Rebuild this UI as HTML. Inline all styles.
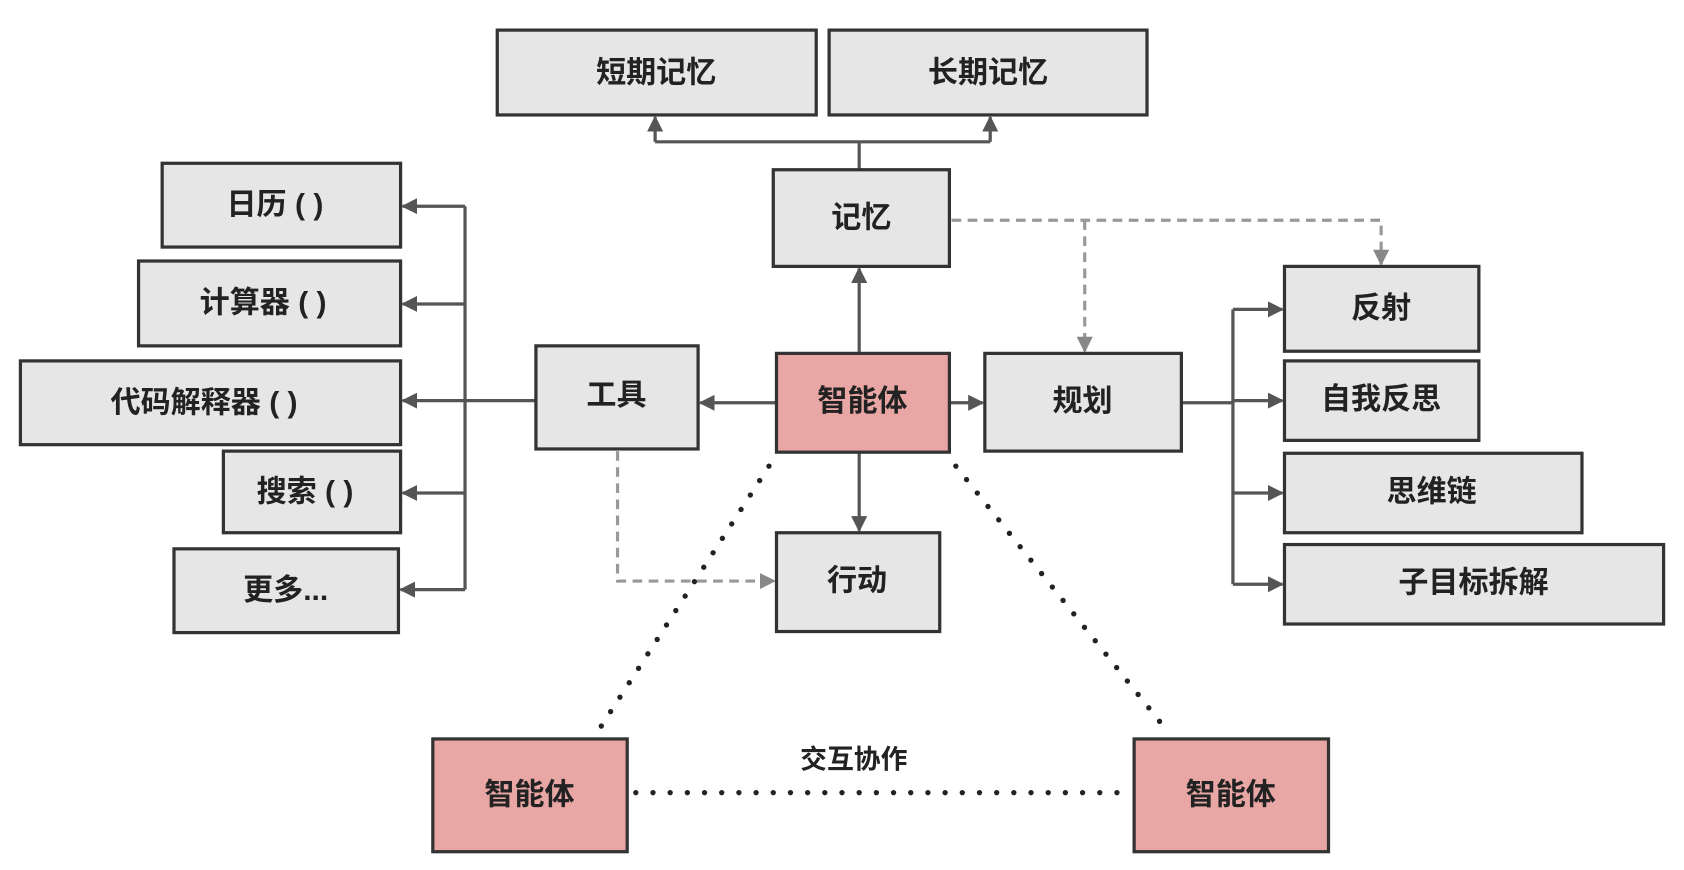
<!DOCTYPE html>
<html><head><meta charset="utf-8"><style>
html,body{margin:0;padding:0;background:#fff;}
svg{display:block}
text{font-family:"Liberation Sans","Noto Sans CJK SC",sans-serif;font-weight:bold;fill:#222;text-anchor:middle;dominant-baseline:central;font-size:28px}
</style></head><body>
<svg width="1684" height="870" viewBox="0 0 1568 810" xmlns="http://www.w3.org/2000/svg">
<defs>
<marker id="a" viewBox="0 0 10 10" refX="9" refY="5" markerWidth="5" markerHeight="5" orient="auto"><path d="M0,0L10,5L0,10z" fill="#555"/></marker>
<marker id="b" viewBox="0 0 10 10" refX="9" refY="5" markerWidth="5" markerHeight="5" orient="auto"><path d="M0,0L10,5L0,10z" fill="#888"/></marker>
</defs>
<g stroke="#555" stroke-width="3" fill="none">
<path d="M800,158V132M610,132H922" />
<path d="M610,132V109" marker-end="url(#a)"/><path d="M922,132V109" marker-end="url(#a)"/>
<path d="M433,192V549M499,373H433"/>
<path d="M433,192H375" marker-end="url(#a)"/><path d="M433,283H375" marker-end="url(#a)"/><path d="M433,373H375" marker-end="url(#a)"/><path d="M433,459H375" marker-end="url(#a)"/><path d="M433,549H373" marker-end="url(#a)"/>
<path d="M800,329V250" marker-end="url(#a)"/>
<path d="M723,375H652" marker-end="url(#a)"/>
<path d="M884,375H915" marker-end="url(#a)"/>
<path d="M800,421V494" marker-end="url(#a)"/>
<path d="M1100,375H1148M1148,288V544"/>
<path d="M1148,288H1194" marker-end="url(#a)"/><path d="M1148,373H1194" marker-end="url(#a)"/><path d="M1148,459H1194" marker-end="url(#a)"/><path d="M1148,544H1194" marker-end="url(#a)"/>
</g>
<g stroke="#999" stroke-width="3" fill="none" stroke-dasharray="9,6">
<path d="M886,205H1286V246" marker-end="url(#b)"/>
<path d="M1010,205V327" marker-end="url(#b)"/>
<path d="M575,420V541H721" marker-end="url(#b)"/>
</g>
<g stroke="#222" stroke-width="5" fill="none" stroke-dasharray="0,16" stroke-linecap="round">
<path d="M716,434L556,682"/><path d="M890,434L1088,682"/><path d="M592,738H1048"/>
</g>
<g stroke="#333" stroke-width="3">
<g fill="#e6e6e6">
<rect x="463" y="28" width="297" height="79"/><rect x="772" y="28" width="296" height="79"/>
<rect x="720" y="158" width="164" height="90"/>
<rect x="151" y="152" width="222" height="78"/><rect x="129" y="243" width="244" height="79"/>
<rect x="19" y="336" width="354" height="78"/><rect x="208" y="420" width="165" height="76"/>
<rect x="162" y="511" width="209" height="78"/>
<rect x="499" y="322" width="151" height="96"/>
<rect x="917" y="329" width="183" height="91"/>
<rect x="723" y="496" width="152" height="92"/>
<rect x="1196" y="248" width="181" height="79"/><rect x="1196" y="336" width="181" height="74"/>
<rect x="1196" y="422" width="277" height="74"/><rect x="1196" y="507" width="353" height="74"/>
</g>
<g fill="#e8a6a4">
<rect x="723" y="329" width="161" height="92"/>
<rect x="403" y="688" width="181" height="105"/><rect x="1056" y="688" width="181" height="105"/>
</g>
</g>
<text x="611" y="68">短期记忆</text><text x="920" y="68">长期记忆</text>
<text x="802" y="203">记忆</text>
<text x="256" y="191">日历 ( )</text><text x="245" y="282">计算器 ( )</text>
<text x="190" y="375">代码解释器 ( )</text><text x="284" y="458">搜索 ( )</text>
<text x="266" y="550">更多...</text>
<text x="574" y="368">工具</text><text x="803" y="374">智能体</text><text x="1008" y="374">规划</text>
<text x="798" y="541">行动</text>
<text x="1286" y="287">反射</text><text x="1286" y="372">自我反思</text>
<text x="1333" y="458">思维链</text><text x="1372" y="543">子目标拆解</text>
<text x="493" y="740">智能体</text><text x="1146" y="740">智能体</text>
<text x="795" y="707" style="font-size:25px">交互协作</text>
</svg>
</body></html>
